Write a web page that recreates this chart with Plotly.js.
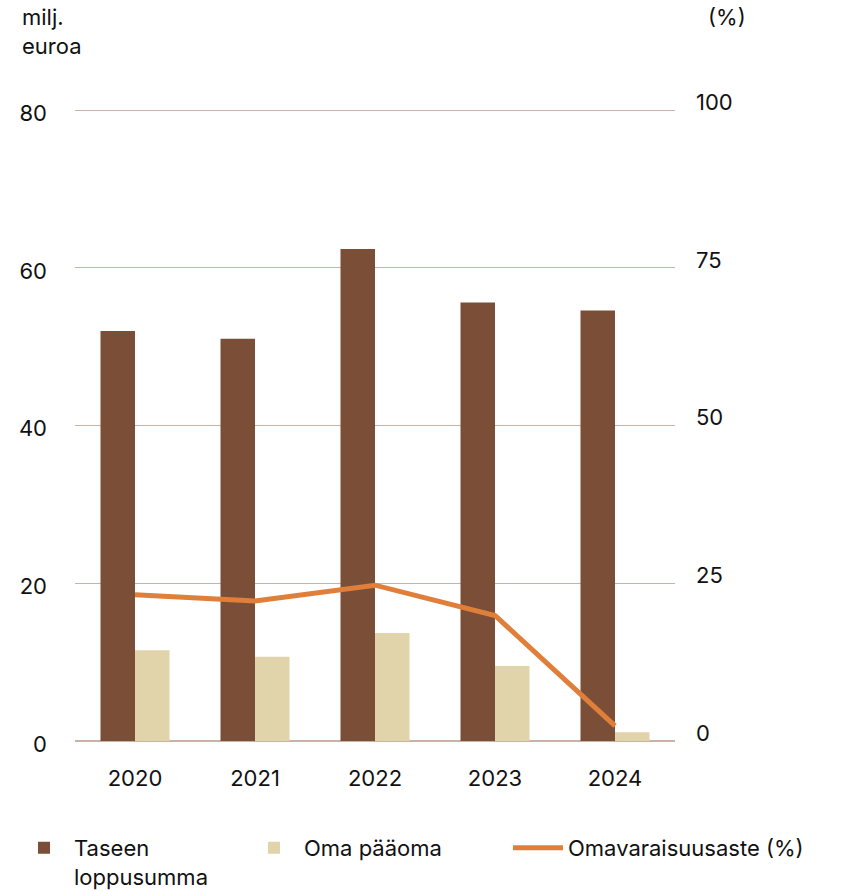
<!DOCTYPE html>
<html>
<head>
<meta charset="utf-8">
<script src="https://cdn.plot.ly/plotly-3.0.1.min.js"></script>
<style>html,body{margin:0;padding:0;background:#fff;}#chart{width:842px;height:891px;}</style>
</head>
<body>
<div id="chart"></div>
<script>
const years = ['2020', '2021', '2022', '2023', '2024'];
const taseenLoppusumma = [52.0, 51.0, 62.4, 55.6, 54.6];
const omaPaaoma = [11.5, 10.7, 13.7, 9.5, 1.1];
const omavaraisuusaste = [23.2, 22.2, 24.7, 19.9, 2.4];
const leftTicks = [0, 20, 40, 60, 80];
const rightTicks = [0, 25, 50, 75, 100];

const FONT = 'Inter, Roboto, "DejaVu Sans", sans-serif';
const GRID = '#c9b3a7';

const data = [
  {type: 'bar', name: 'Taseen<br>loppusumma', x: years, y: taseenLoppusumma,
   marker: {color: '#7b4f37'}, offsetgroup: 'a', hoverinfo: 'y', legend: 'legend'},
  {type: 'bar', name: 'Oma pääoma', x: years, y: omaPaaoma,
   marker: {color: '#e1d3aa'}, offsetgroup: 'b', hoverinfo: 'y', legend: 'legend2'},
  {type: 'scatter', mode: 'lines', name: 'Omavaraisuusaste (%)', x: years, y: omavaraisuusaste,
   yaxis: 'y2', line: {color: '#e07f3a', width: 5}, hoverinfo: 'y', legend: 'legend3'}
];

function legendAt(xPx) {
  return {orientation: 'h', xref: 'container', yref: 'container', x: xPx / 842, xanchor: 'left',
          y: 0.072, yanchor: 'top', itemwidth: 50, valign: 'top',
          bgcolor: 'rgba(0,0,0,0)',
          font: {family: FONT, size: 22, color: '#111'}};
}

const layout = {
  width: 842, height: 891,
  margin: {l: 75, r: 167, t: 109, b: 150},
  paper_bgcolor: '#fff', plot_bgcolor: '#fff',
  font: {family: FONT, size: 22, color: '#111'},
  barmode: 'group', bargap: 0.425, bargroupgap: 0,
  showlegend: true,
  legend: legendAt(14),
  legend2: legendAt(244),
  legend3: legendAt(508),
  xaxis: {type: 'category', showgrid: false, zeroline: false, showline: false, ticks: '',
          ticklabelstandoff: 22, tickfont: {family: FONT, size: 22, color: '#111'}},
  yaxis: {range: [0, 80.15], tickvals: leftTicks, ticktext: leftTicks.map(String), showgrid: true,
          gridcolor: GRID, gridwidth: 1, zeroline: true, zerolinecolor: GRID, zerolinewidth: 1.5,
          showline: false, ticks: '', ticklabelstandoff: 27, ticklabelshift: 3,
          tickfont: {family: FONT, size: 22, color: '#111'}},
  yaxis2: {range: [0, 100.1875], tickvals: rightTicks, ticktext: rightTicks.map(String), overlaying: 'y',
           side: 'right', showgrid: false, zeroline: false, showline: false, ticks: '',
           ticklabelstandoff: 20, ticklabelshift: -8, tickfont: {family: FONT, size: 22, color: '#111'}},
  annotations: [
    {xref: 'paper', yref: 'paper', x: -0.092, y: 1.17, xanchor: 'left', yanchor: 'top', align: 'left',
     text: 'milj.<br>euroa', showarrow: false, font: {family: FONT, size: 22, color: '#111'}},
    {xref: 'paper', yref: 'paper', x: 1.052, y: 1.17, xanchor: 'left', yanchor: 'top', align: 'left',
     text: '(%)', showarrow: false, font: {family: FONT, size: 22, color: '#111'}}
  ]
};

Plotly.newPlot('chart', data, layout, {displayModeBar: false, staticPlot: true});
</script>
</body>
</html>
